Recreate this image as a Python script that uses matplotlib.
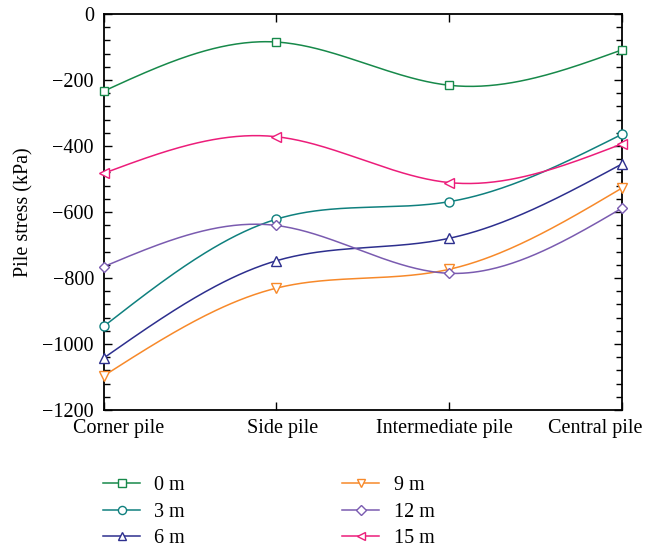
import numpy as np
import matplotlib
matplotlib.use("Agg")
import matplotlib.pyplot as plt
from matplotlib.ticker import MultipleLocator

plt.rcParams['font.family'] = ['Liberation Serif', 'DejaVu Serif']
plt.rcParams['font.size'] = 14.5
plt.rcParams['axes.unicode_minus'] = True

# data
piles = ["Corner pile", "Side pile", "Intermediate pile", "Central pile"]
labels = ["0 m", "3 m", "6 m", "9 m", "12 m", "15 m"]
s0 = [-234, -85, -216, -109]
s3 = [-947, -622, -569, -365]
s6 = [-1043, -748, -680, -455]
s9 = [-1097, -831, -774, -528]
s12 = [-766, -641, -786, -589]
s15 = [-483, -372, -511, -394]
series = [s0, s3, s6, s9, s12, s15]

colors = ["#17894a", "#0f807e", "#2d2f8e", "#f7892a", "#7a5bb0", "#ec1d7a"]
markers = ["s", "o", "^", "v", "D", "<"]
msizes = [6, 6.5, 7, 7, 5.5, 7]


def natural_spline(x, y, n=200):
    # natural cubic spline, drawn the way the original smooths its lines
    x = np.asarray(x, float)
    y = np.asarray(y, float)
    k = len(x)
    h = np.diff(x)
    A = np.zeros((k, k))
    b = np.zeros(k)
    A[0, 0] = A[-1, -1] = 1
    for i in range(1, k - 1):
        A[i, i - 1] = h[i - 1]
        A[i, i] = 2 * (h[i - 1] + h[i])
        A[i, i + 1] = h[i]
        b[i] = 6 * ((y[i + 1] - y[i]) / h[i] - (y[i] - y[i - 1]) / h[i - 1])
    M = np.linalg.solve(A, b)
    xs = np.linspace(x[0], x[-1], n)
    idx = np.clip(np.searchsorted(x, xs) - 1, 0, k - 2)
    x0, x1 = x[idx], x[idx + 1]
    hh = x1 - x0
    t0 = x1 - xs
    t1 = xs - x0
    ys = (M[idx] * t0 ** 3 / (6 * hh) + M[idx + 1] * t1 ** 3 / (6 * hh)
          + (y[idx] / hh - M[idx] * hh / 6) * t0
          + (y[idx + 1] / hh - M[idx + 1] * hh / 6) * t1)
    return xs, ys


fig = plt.figure(figsize=(6.6, 5.48), dpi=100)
ax = fig.add_axes([0.157, 0.252, 0.785, 0.7225])

xpos = np.arange(len(piles))
for vals, lab, c, m, ms in zip(series, labels, colors, markers, msizes):
    xs, ys = natural_spline(xpos, vals)
    ax.plot(xs, ys, color=c, lw=1.1, zorder=2)
    ax.plot(xpos, vals, ls="none", marker=m, ms=ms, mfc="white", mec=c,
            mew=1.0, zorder=3, clip_on=False)
    ax.plot([], [], color=c, lw=1.1, marker=m, ms=ms * 0.9, mfc="white",
            mec=c, mew=1.0, label=lab)

ax.set_xlim(0, 3)
ax.set_ylim(-1200, 0)
ax.yaxis.set_major_locator(MultipleLocator(200))
ax.yaxis.set_minor_locator(MultipleLocator(40))
ax.set_xticks(xpos)
ax.set_xticklabels([])
ax.tick_params(axis="both", which="both", direction="in", top=True,
               right=True, width=1.0)
ax.tick_params(axis="both", which="major", length=6)
ax.tick_params(axis="y", which="minor", length=4)
ax.tick_params(axis="y", which="major", pad=7)
for sp in ax.spines.values():
    sp.set_linewidth(1.3)

# category labels, shifted like in the original
shifts = [15, 6, -5, -26]
for xp, name, dx in zip(xpos, piles, shifts):
    ax.annotate(name, xy=(xp, -1200), xytext=(dx, -9),
                textcoords="offset pixels", ha="center", va="top",
                annotation_clip=False)

ax.set_ylabel("Pile stress (kPa)", labelpad=6)

fig.legend(loc="upper left", bbox_to_anchor=(0.156, 0.131), ncol=2,
           frameon=False, handlelength=1.85, handletextpad=0.7,
           columnspacing=7.8, labelspacing=0.37, borderaxespad=0,
           borderpad=0)

fig.savefig("out.png", dpi=100)
